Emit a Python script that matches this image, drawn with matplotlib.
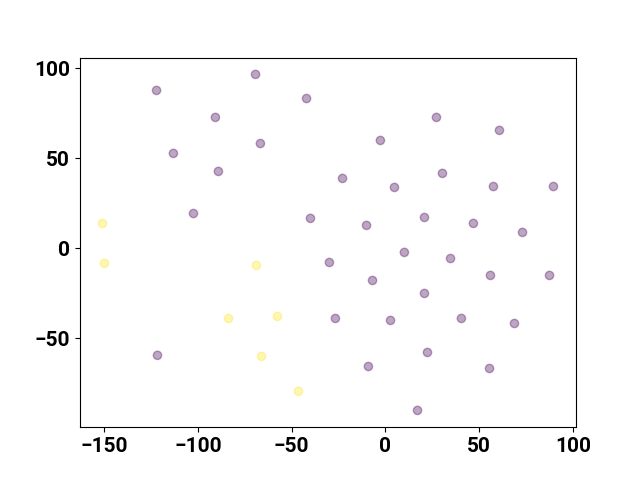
import matplotlib
matplotlib.use("Agg")
import matplotlib.pyplot as plt
import numpy as np

plt.rcParams['font.family'] = ['Roboto', 'DejaVu Sans']
plt.rcParams['font.weight'] = 'bold'
plt.rcParams['font.size'] = 15

x0 = [-69.3, -122.1, -42.1, -90.7, 27.2, 60.8, -66.7, -2.7, -113.1, -89.1, 30.4, -22.9,
      4.8, 57.6, 89.6, -102.4, -40.0, 20.8, 46.9, -10.1, 73.1, 10.1, 34.7, -29.9, 56.0,
      87.5, -6.9, 20.8, -26.7, 40.5, 2.7, 68.8, -121.6, 22.4, -9.1, 55.5, 17.1]
y0 = [96.7, 87.8, 83.3, 72.8, 72.8, 65.6, 58.3, 60.0, 52.8, 42.8, 41.7, 38.9,
      33.9, 34.4, 34.4, 19.4, 16.7, 17.2, 13.9, 12.8, 8.9, -2.2, -5.6, -7.8, -15.0,
      -15.0, -17.8, -25.0, -38.9, -38.9, -40.0, -41.7, -59.4, -57.8, -65.6, -66.7, -90.0]
x1 = [-150.9, -149.9, -68.8, -83.7, -57.6, -66.1, -46.4]
y1 = [13.9, -8.3, -9.4, -38.9, -37.8, -60.0, -79.4]

xs = np.array(x0 + x1)
ys = np.array(y0 + y1)
labels = np.array([0] * len(x0) + [1] * len(x1))

fig, ax = plt.subplots(figsize=(6.4, 4.8), dpi=100)
ax.scatter(xs, ys, c=labels, cmap='viridis', alpha=0.35)
for t in ax.get_xticklabels() + ax.get_yticklabels():
    t.set_fontweight('bold')
fig.savefig('out.png')
